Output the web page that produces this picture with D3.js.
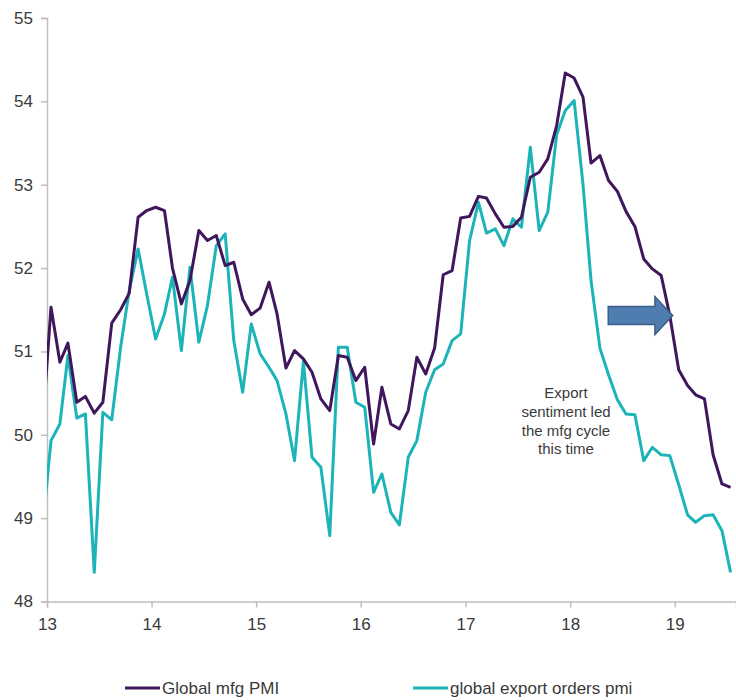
<!DOCTYPE html>
<html>
<head>
<meta charset="utf-8">
<script src="https://cdn.jsdelivr.net/npm/d3@7"></script>
<style>
  html, body { margin: 0; padding: 0; background: #fff; }
  svg { display: block; font-family: "Liberation Sans", Arial, sans-serif; }
</style>
</head>
<body>
<svg id="chart" width="736" height="700"></svg>
<script>
// Monthly observations, Dec 2012 through Jul 2019 (plotted mid-month)
const firstMonth = new Date(2012, 11, 1);
const lastMonth = new Date(2019, 6, 1);
const months = d3.timeMonth.range(firstMonth, d3.timeMonth.offset(lastMonth, 1));

const globalMfgPMI = [
  50.03,
  51.53, 50.87, 51.10, 50.39, 50.46, 50.26, 50.39, 51.34, 51.50, 51.70, 52.61, 52.69,
  52.73, 52.69, 52.00, 51.57, 51.85, 52.45, 52.33, 52.39, 52.03, 52.07, 51.63, 51.44,
  51.52, 51.83, 51.45, 50.80, 51.01, 50.91, 50.75, 50.43, 50.29, 50.95, 50.93, 50.65,
  50.81, 49.89, 50.57, 50.13, 50.07, 50.29, 50.93, 50.73, 51.04, 51.92, 51.97, 52.60,
  52.62, 52.86, 52.84, 52.65, 52.49, 52.50, 52.61, 53.09, 53.15, 53.31, 53.71, 54.34,
  54.28, 54.05, 53.26, 53.35, 53.05, 52.92, 52.68, 52.50, 52.11, 51.99, 51.91, 51.43,
  50.78, 50.59, 50.48, 50.43, 49.76, 49.41, 49.37
];

const globalExportOrders = [
  48.83,
  49.93, 50.13, 50.95, 50.20, 50.25, 48.35, 50.27, 50.18, 51.05, 51.73, 52.23, 51.69,
  51.15, 51.45, 51.89, 51.01, 52.01, 51.11, 51.55, 52.27, 52.41, 51.13, 50.51, 51.33,
  50.97, 50.81, 50.65, 50.25, 49.69, 50.88, 49.73, 49.61, 48.79, 51.05, 51.05, 50.39,
  50.33, 49.31, 49.53, 49.07, 48.92, 49.73, 49.93, 50.51, 50.78, 50.85, 51.13, 51.21,
  52.33, 52.79, 52.42, 52.47, 52.27, 52.59, 52.49, 53.45, 52.45, 52.67, 53.60, 53.89,
  54.01, 53.00, 51.85, 51.04, 50.72, 50.42, 50.25, 50.24, 49.69, 49.85, 49.76, 49.75,
  49.40, 49.04, 48.95, 49.03, 49.04, 48.85, 48.35
];

const yTicks = [48, 49, 50, 51, 52, 53, 54, 55];
const xTickYears = [2013, 2014, 2015, 2016, 2017, 2018, 2019];
const xTickLabels = ["13", "14", "15", "16", "17", "18", "19"];

const seriesNames = ["Global mfg PMI", "global export orders pmi"];
const seriesColors = ["#40165c", "#1cb4b8"];

const noteLines = ["Export", "sentiment led", "the mfg cycle", "this time"];

// Layout
const W = 736, H = 700;
const plot = { left: 47, right: 736, top: 18, bottom: 601.5 };

const svg = d3.select("#chart");

const x = d3.scaleTime()
  .domain([new Date(2013, 0, 1), new Date(2019, 7, 3)])
  .range([plot.left, plot.right]);

const y = d3.scaleLinear()
  .domain([48, 55])
  .range([plot.bottom, plot.top]);

const axisColor = "#bfbfbf";
const textColor = "#3a3a3a";

// Clip the series to the plotting area
svg.append("defs").append("clipPath").attr("id", "plotClip")
  .append("rect")
  .attr("x", plot.left).attr("y", 0)
  .attr("width", plot.right - plot.left).attr("height", H);

// Y axis
const yAxis = svg.append("g")
  .attr("transform", `translate(${plot.left},0)`)
  .call(d3.axisLeft(y).tickValues(yTicks).tickSize(6).tickPadding(8).tickFormat(d3.format("d")));
yAxis.select(".domain").attr("stroke", axisColor).attr("stroke-width", 1.5);
yAxis.selectAll(".tick line").attr("stroke", axisColor).attr("stroke-width", 1.5);
yAxis.selectAll(".tick text")
  .attr("fill", textColor)
  .style("font-size", "17px")
  .style("font-family", "'Liberation Sans', Arial, sans-serif");

// X axis
const xAxis = svg.append("g")
  .attr("transform", `translate(0,${plot.bottom})`)
  .call(d3.axisBottom(x)
    .tickValues(xTickYears.map(yr => new Date(yr, 0, 1)))
    .tickSize(6).tickPadding(10)
    .tickFormat((d, i) => xTickLabels[i]));
xAxis.select(".domain").attr("stroke", axisColor).attr("stroke-width", 1.5);
xAxis.selectAll(".tick line").attr("stroke", axisColor).attr("stroke-width", 1.5);
xAxis.selectAll(".tick text")
  .attr("fill", textColor)
  .style("font-size", "17px")
  .style("font-family", "'Liberation Sans', Arial, sans-serif");

// Series lines, each point placed in the middle of its month
const midMonth = d => d3.timeDay.offset(d, 14);
const line = d3.line()
  .x((d, i) => x(midMonth(months[i])))
  .y(d => y(d));

const lines = svg.append("g").attr("clip-path", "url(#plotClip)");
[globalExportOrders, globalMfgPMI].forEach((vals, k) => {
  const colorIndex = k === 0 ? 1 : 0;
  lines.append("path")
    .datum(vals)
    .attr("fill", "none")
    .attr("stroke", seriesColors[colorIndex])
    .attr("stroke-width", 3)
    .attr("stroke-linejoin", "round")
    .attr("d", line);
});

// Block arrow pointing at the mfg PMI turn
const arrowY = y(51.43);
const ax0 = x(new Date(2018, 4, 14)), ax1 = x(new Date(2018, 9, 24)), axTip = x(new Date(2018, 11, 25));
const bodyH = 18, headH = 38;
svg.append("path")
  .attr("d", `M${ax0},${arrowY - bodyH / 2} L${ax1},${arrowY - bodyH / 2} L${ax1},${arrowY - headH / 2}
              L${axTip},${arrowY} L${ax1},${arrowY + headH / 2} L${ax1},${arrowY + bodyH / 2}
              L${ax0},${arrowY + bodyH / 2} Z`)
  .attr("fill", "#4f7db0")
  .attr("stroke", "#3b5f88")
  .attr("stroke-width", 1.5)
  .attr("stroke-linejoin", "miter");

// Annotation text
const note = svg.append("text")
  .attr("x", 566)
  .attr("y", 398)
  .attr("text-anchor", "middle")
  .attr("fill", textColor)
  .style("font-size", "15px");
note.selectAll("tspan")
  .data(noteLines)
  .join("tspan")
  .attr("x", 566)
  .attr("dy", (d, i) => i === 0 ? 0 : 18.8)
  .text(d => d);

// Legend
const legendItems = [
  { name: seriesNames[0], color: seriesColors[0], x: 125 },
  { name: seriesNames[1], color: seriesColors[1], x: 413 }
];
const legend = svg.append("g").attr("transform", "translate(0,688)");
legendItems.forEach(item => {
  legend.append("line")
    .attr("x1", item.x).attr("x2", item.x + 35)
    .attr("y1", 0).attr("y2", 0)
    .attr("stroke", item.color).attr("stroke-width", 3);
  legend.append("text")
    .attr("x", item.x + 37).attr("y", 0)
    .attr("dy", "0.35em")
    .attr("fill", textColor)
    .style("font-size", "17px")
    .text(item.name);
});
</script>
</body>
</html>
